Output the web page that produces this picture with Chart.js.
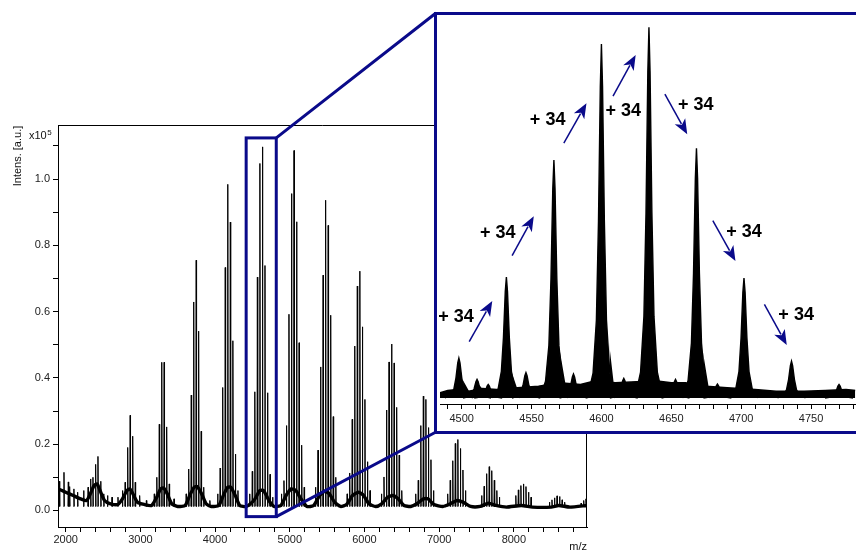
<!DOCTYPE html>
<html><head><meta charset="utf-8">
<script src="https://cdn.jsdelivr.net/npm/chart.js@4.4.1/dist/chart.umd.min.js"></script>
<style>
html,body{margin:0;padding:0;background:#fff;}
#wrap{position:relative;width:856px;height:552px;overflow:hidden;background:#fff;}
#main{position:absolute;left:0;top:0;}
#inset{position:absolute;left:434px;top:12px;width:432px;height:422px;box-sizing:border-box;border:3px solid #0a0a8a;background:#fff;}
#insetCanvas{position:absolute;left:0;top:0;}
</style></head>
<body>
<div id="wrap">
<canvas id="main" width="856" height="552"></canvas>
<div id="inset"><canvas id="insetCanvas" width="419" height="416"></canvas></div>
</div>
<script>
// ---------------- main spectrum data (m/z, intensity x10^5) ----------------
const peakMz = [1915,1977,2035,2053,2110,2160,2240,2300,2335,2365,2401,2432,2470,2510,2560,2620,2700,2760,
  2796,2830,2863,2897,2931,2990,3080,3186,3220,3253,3286,3318,3352,3386,3450,
  3613,3647,3681,3714,3747,3780,3814,3848,3930,
  4034,4068,4102,4136,4170,4204,4238,4272,4306,
  4464,4498,4532,4566,4600,4634,4668,4702,4736,4770,
  4888,4922,4955,4989,5023,5057,5091,5125,5159,5193,
  5344,5378,5412,5446,5480,5514,5548,5582,5616,
  5768,5802,5836,5870,5904,5938,5972,6006,6040,6074,
  6227,6261,6295,6329,6363,6397,6431,6465,6499,
  6686,6720,6754,6788,6822,6856,6890,6924,
  7114,7148,7182,7216,7250,7284,7318,7352,
  7568,7602,7636,7670,7704,7738,7772,7806,
  8026,8060,8094,8128,8162,8196,8230,
  8476,8510,8544,8578,8612,8646,8680,
  8900,8935,8965];
const peakInt = [0.088,0.115,0.086,0.072,0.065,0.055,0.060,0.070,0.095,0.100,0.139,0.163,0.088,0.050,0.045,0.040,0.040,0.060,
  0.085,0.190,0.287,0.224,0.085,0.045,0.030,0.050,0.100,0.260,0.447,0.447,0.252,0.080,0.035,
  0.050,0.125,0.348,0.629,0.755,0.541,0.239,0.070,0.030,
  0.050,0.128,0.371,0.733,0.984,0.870,0.512,0.170,0.060,
  0.050,0.118,0.358,0.704,1.047,1.097,0.739,0.355,0.109,0.040,
  0.050,0.090,0.256,0.592,0.956,1.086,0.871,0.506,0.197,0.070,
  0.070,0.182,0.433,0.710,0.936,0.860,0.589,0.283,0.100,
  0.050,0.113,0.275,0.496,0.677,0.722,0.554,0.335,0.147,0.060,
  0.050,0.101,0.303,0.448,0.502,0.445,0.311,0.167,0.060,
  0.050,0.091,0.256,0.345,0.335,0.250,0.153,0.060,
  0.050,0.091,0.150,0.202,0.214,0.187,0.122,0.060,
  0.045,0.073,0.111,0.132,0.120,0.091,0.060,0.040,
  0.045,0.062,0.075,0.080,0.072,0.055,0.040,
  0.025,0.032,0.038,0.044,0.042,0.032,0.025,
  0.022,0.030,0.035];
const baseMz = [1900,1950,2000,2100,2200,2280,2330,2380,2420,2460,2520,2600,2700,2760,2820,2860,2900,2960,3050,3150,
  3220,3270,3310,3360,3420,3500,3600,3660,3720,3760,3820,3880,3950,4050,4110,4170,4210,4270,4330,4420,
  4520,4600,4650,4720,4790,4880,4950,5020,5080,5150,5230,5320,5400,5470,5530,5600,5680,5760,5840,5920,
  5990,6060,6150,6230,6310,6380,6450,6530,6620,6700,6790,6850,6930,7050,7150,7240,7320,7420,7550,7660,
  7760,7900,8100,8250,8500,8600,8750,8980];
const baseInt = [0.065,0.060,0.055,0.045,0.035,0.030,0.050,0.075,0.080,0.060,0.030,0.020,0.018,0.035,0.060,0.065,0.050,0.025,0.018,0.015,
  0.040,0.065,0.068,0.050,0.020,0.012,0.015,0.045,0.070,0.072,0.050,0.020,0.012,0.015,0.045,0.070,0.070,0.045,0.015,0.012,
  0.030,0.060,0.060,0.030,0.012,0.015,0.045,0.065,0.060,0.035,0.012,0.015,0.045,0.058,0.050,0.025,0.012,0.018,0.045,0.055,
  0.045,0.020,0.012,0.020,0.040,0.045,0.035,0.015,0.012,0.020,0.035,0.035,0.018,0.012,0.020,0.030,0.025,0.012,0.012,0.022,
  0.015,0.010,0.015,0.010,0.010,0.015,0.010,0.015];
const xTickValues = [2000,2200,2400,2600,2800,3000,3200,3400,3600,3800,4000,4200,4400,4600,4800,5000,5200,5400,5600,5800,
  6000,6200,6400,6600,6800,7000,7200,7400,7600,7800,8000,8200,8400,8600,8800];
const xTickLabels = ['2000','','','','','3000','','','','','4000','','','','','5000','','','','',
  '6000','','','','','7000','','','','','8000','','','',''];
const yTickValues = [0,0.1,0.2,0.3,0.4,0.5,0.6,0.7,0.8,0.9,1.0,1.1];
const yTickLabels = ['0.0','','0.2','','0.4','','0.6','','0.8','','1.0',''];
const zoomBox = {mzMin: 4416, mzMax: 4819, intMin: -0.0187, intMax: 1.124};

// ---------------- inset data ----------------
const insetPeakMz = [4498,4511,4519,4532,4546,4566,4580,4600,4616,4634,4653,4668,4683,4702,4736,4770];
const insetPeakInt = [0.118,0.055,0.040,0.358,0.075,0.704,0.071,1.047,0.058,1.097,0.055,0.739,0.041,0.355,0.109,0.040];
const insetBaseMz = [4484,4490,4497,4505,4515,4525,4540,4555,4570,4585,4595,4610,4625,4640,4650,4660,4675,4690,4710,4725,4745,4760,4775,4782];
const insetBaseInt = [0.015,0.022,0.025,0.020,0.028,0.025,0.030,0.035,0.045,0.040,0.050,0.045,0.048,0.050,0.045,0.045,0.035,0.030,0.025,0.020,0.020,0.022,0.025,0.022];
const insetTickValues = [4490,4500,4510,4520,4530,4540,4550,4560,4570,4580,4590,4600,4610,4620,4630,4640,4650,4660,4670,4680,4690,4700,4710,4720,4730,4740,4750,4760,4770,4780];
const insetTickLabels = insetTickValues.map(v => (v % 50 === 0 ? String(v) : ''));
const shiftText = '+ 34';
const labelMz = [4483.3,4513.1,4548.8,4602.9,4654.7,4689.3,4726.6];
const labelInt = [0.2257,0.4725,0.8077,0.8343,0.8521,0.4772,0.2308];
const arrowFromMz = [4505.4,4536.1,4573.1,4608.3,4645.4,4679.7,4716.6];
const arrowFromInt = [0.1666,0.421,0.754,0.893,0.899,0.525,0.277];
const arrowToMz = [4521.9,4551.6,4589.3,4624.5,4661.4,4695.9,4732.6];
const arrowToInt = [0.287,0.538,0.872,1.015,0.780,0.405,0.157];

// ---------------- styling ----------------
const NAVY = '#0a0a8a';
const FONT = '"Liberation Sans", Arial, Helvetica, sans-serif';
Chart.defaults.font.family = FONT;
Chart.defaults.font.size = 11;
Chart.defaults.color = '#222';
const peakFoot = 0.012;     // peak lines start at the bottom of the noise band
const peakHalf = 5;         // half width of a main-view peak stick (Da)
const profDx = [-10,-6,-3.6,-2.1,-0.8,0,0.8,2.1,3.6,6,10];   // inset peak outline (Da)
const profFr = [0,0.07,0.22,0.5,0.88,1,0.88,0.5,0.22,0.07,0];

const mainPeakPts = [];
peakMz.forEach((m, i) => {
  mainPeakPts.push({x: m - peakHalf, y: peakFoot}, {x: m, y: peakInt[i]}, {x: m + peakHalf, y: peakFoot}, {x: m, y: null});
});
const mainBasePts = baseMz.map((m, i) => ({x: m, y: baseInt[i]}));

const insetPeakPts = [];
insetPeakMz.forEach((m, i) => {
  profDx.forEach((d, k) => insetPeakPts.push({x: m + d, y: insetPeakInt[i] * profFr[k]}));
  insetPeakPts.push({x: m, y: null});
});
const insetBasePts = insetBaseMz.map((m, i) => ({x: m, y: insetBaseInt[i]}));

const mainOverlay = {
  id: 'mainOverlay',
  afterDatasetsDraw(chart) {
    const {ctx, chartArea: a, scales: {x, y}} = chart;
    ctx.save();
    ctx.strokeStyle = '#000'; ctx.lineWidth = 1;
    ctx.beginPath();
    ctx.moveTo(a.left, a.top + 0.5); ctx.lineTo(a.right - 0.5, a.top + 0.5); ctx.lineTo(a.right - 0.5, a.bottom);
    ctx.stroke();
    const bx1 = x.getPixelForValue(zoomBox.mzMin), bx2 = x.getPixelForValue(zoomBox.mzMax);
    const by1 = y.getPixelForValue(zoomBox.intMax), by2 = y.getPixelForValue(zoomBox.intMin);
    ctx.strokeStyle = NAVY; ctx.lineWidth = 3; ctx.lineJoin = 'miter';
    ctx.strokeRect(bx1, by1, bx2 - bx1, by2 - by1);
    ctx.beginPath();
    ctx.moveTo(bx2, by1); ctx.lineTo(436, 13);
    ctx.moveTo(bx2, by2); ctx.lineTo(436, 432);
    ctx.stroke();
    ctx.fillStyle = '#111';
    ctx.font = '11px ' + FONT;
    ctx.save();
    ctx.translate(18, 156); ctx.rotate(-Math.PI / 2);
    ctx.textAlign = 'center'; ctx.textBaseline = 'middle';
    ctx.fillText('Intens. [a.u.]', 0, 0);
    ctx.restore();
    ctx.textAlign = 'left'; ctx.textBaseline = 'alphabetic';
    ctx.fillText('x10', 29, 138.5);
    const w = ctx.measureText('x10').width;
    ctx.font = '8px ' + FONT;
    ctx.fillText('5', 29 + w + 0.5, 134.5);
    ctx.font = '11px ' + FONT;
    ctx.textAlign = 'right';
    ctx.fillText('m/z', 587, 550);
    ctx.restore();
  }
};

new Chart(document.getElementById('main'), {
  type: 'line',
  data: {datasets: [
    {data: mainBasePts, borderColor: '#000', borderWidth: 3.4, pointRadius: 0, tension: 0.2, fill: false},
    {data: mainPeakPts, borderColor: '#000', borderWidth: 1, pointRadius: 0, spanGaps: false, fill: false}
  ]},
  options: {
    responsive: false, animation: false, devicePixelRatio: 1,
    layout: {padding: {left: 0, top: 125, right: 269, bottom: 0}},
    plugins: {legend: {display: false}, tooltip: {enabled: false}},
    scales: {
      x: {type: 'linear', min: 1897, max: 8979, bounds: 'data',
        afterBuildTicks: s => { s.ticks = xTickValues.map(v => ({value: v})); },
        afterFit: s => { s.height = 25; },
        ticks: {autoSkip: false, maxRotation: 0, padding: 1, color: '#222', callback: (v, i) => xTickLabels[i]},
        grid: {drawOnChartArea: false, drawTicks: true, tickLength: 5, tickColor: '#000'},
        border: {display: true, color: '#000', width: 1}},
      y: {type: 'linear', min: -0.05, max: 1.163, bounds: 'data',
        afterBuildTicks: s => { s.ticks = yTickValues.map(v => ({value: v})); },
        afterFit: s => { s.width = 58; },
        ticks: {autoSkip: false, padding: 3, color: '#222', callback: (v, i) => yTickLabels[i]},
        grid: {drawOnChartArea: false, drawTicks: true, tickLength: 5, tickColor: '#000'},
        border: {display: true, color: '#000', width: 1}}
    }
  },
  plugins: [mainOverlay]
});

const insetOverlay = {
  id: 'insetOverlay',
  afterDraw(chart) {
    const {ctx, scales: {x, y}} = chart;
    ctx.save();
    ctx.fillStyle = '#000';
    ctx.font = 'bold 18px ' + FONT;
    ctx.textAlign = 'left'; ctx.textBaseline = 'alphabetic';
    labelMz.forEach((m, i) => ctx.fillText(shiftText, x.getPixelForValue(m), y.getPixelForValue(labelInt[i])));
    ctx.strokeStyle = NAVY; ctx.fillStyle = NAVY; ctx.lineWidth = 1.5;
    arrowFromMz.forEach((m, i) => {
      const x1 = x.getPixelForValue(m), y1 = y.getPixelForValue(arrowFromInt[i]);
      const x2 = x.getPixelForValue(arrowToMz[i]), y2 = y.getPixelForValue(arrowToInt[i]);
      const ang = Math.atan2(y2 - y1, x2 - x1);
      const hl = 15, hw = 6;
      const bx = x2 - hl * Math.cos(ang), by = y2 - hl * Math.sin(ang);
      ctx.beginPath(); ctx.moveTo(x1, y1); ctx.lineTo(bx + 3 * Math.cos(ang), by + 3 * Math.sin(ang)); ctx.stroke();
      ctx.beginPath();
      ctx.moveTo(x2, y2);
      ctx.lineTo(bx + hw * Math.sin(ang), by - hw * Math.cos(ang));
      ctx.lineTo(x2 - (hl - 4) * Math.cos(ang), y2 - (hl - 4) * Math.sin(ang));
      ctx.lineTo(bx - hw * Math.sin(ang), by + hw * Math.cos(ang));
      ctx.closePath(); ctx.fill();
    });
    ctx.restore();
  }
};

new Chart(document.getElementById('insetCanvas'), {
  type: 'line',
  data: {datasets: [
    {data: insetBasePts, borderColor: '#000', backgroundColor: '#000', borderWidth: 1.5, pointRadius: 0, fill: 'origin'},
    {data: insetPeakPts, borderColor: '#000', backgroundColor: '#000', borderWidth: 1.4, pointRadius: 0, spanGaps: false, fill: 'origin'}
  ]},
  options: {
    responsive: false, animation: false, devicePixelRatio: 1,
    layout: {padding: {left: 3, top: 0, right: 0, bottom: 0}},
    plugins: {legend: {display: false}, tooltip: {enabled: false}},
    scales: {
      x: {type: 'linear', min: 4484.5, max: 4781.6, bounds: 'data',
        afterBuildTicks: s => { s.ticks = insetTickValues.map(v => ({value: v})); },
        afterFit: s => { s.height = 27; },
        ticks: {autoSkip: false, maxRotation: 0, padding: 3, color: '#222', callback: (v, i) => insetTickLabels[i]},
        grid: {drawOnChartArea: false, drawTicks: true, tickLength: 5, tickColor: '#000'},
        border: {display: true, color: '#000', width: 1}},
      y: {type: 'linear', display: false, min: -0.0178, max: 1.133, bounds: 'data'}
    }
  },
  plugins: [insetOverlay]
});
</script>
</body></html>
